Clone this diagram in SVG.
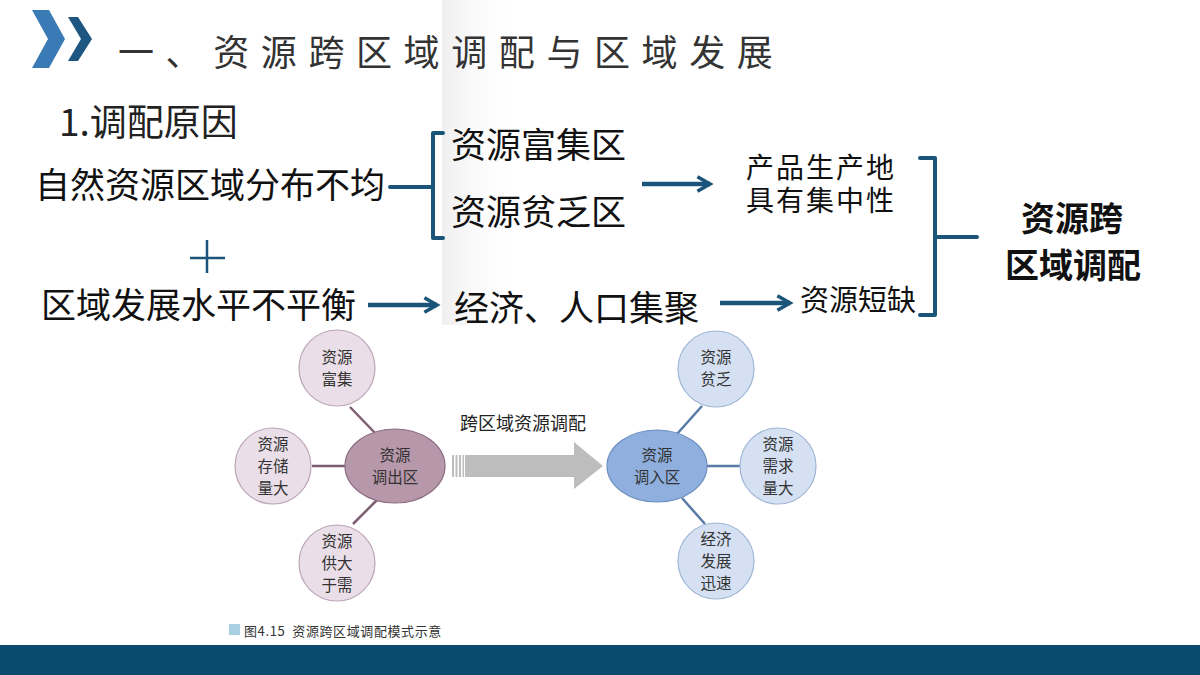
<svg xmlns="http://www.w3.org/2000/svg" width="1200" height="675" viewBox="0 0 1200 675">
<defs>
<style>
.t{font-family:"Noto Sans CJK SC","Liberation Sans",sans-serif;fill:#111}
.big{font-size:35px}
.mid{font-size:29px}
.sm{font-family:"Noto Sans CJK SC","Liberation Sans",sans-serif;font-size:15.5px;fill:#333;text-anchor:middle}
.br{fill:none;stroke:#1b5479;stroke-width:4;stroke-linecap:round;stroke-linejoin:round}
.ar{fill:none;stroke:#1b5479;stroke-width:4.5}
.pc{fill:#eadfe8;stroke:#bba5b7;stroke-width:1.2}
.bc{fill:#d5e1f2;stroke:#9fb6d6;stroke-width:1.2}
.pl{stroke:#7d5e72;stroke-width:2.5}
.bl{stroke:#587aa6;stroke-width:2.5}
</style>
<marker id="ah" viewBox="0 0 10 10" refX="8" refY="5" markerWidth="4" markerHeight="4" orient="auto" markerUnits="strokeWidth">
<polyline points="1,1 8,5 1,9" fill="none" stroke="#1b5479" stroke-width="2"/>
</marker>
<linearGradient id="sh" x1="0" y1="0" x2="1" y2="0">
<stop offset="0" stop-color="#efefef"/>
<stop offset="1" stop-color="#ffffff" stop-opacity="0"/>
</linearGradient>
</defs>
<rect width="1200" height="675" fill="#ffffff"/>
<rect x="442" y="0" width="80" height="325" fill="url(#sh)"/>
<rect x="0" y="645" width="1200" height="30" fill="#0b4a6f"/>

<g id="title">
<polygon points="32,10 49,10 65,39 49,68 32,68 48,39" fill="#3b7bb5"/>
<polygon points="68,17 78,17 92,39 78,61 68,61 81,39" fill="#1d5781"/>
<text x="118" y="66" font-family="'Noto Sans CJK SC','Liberation Sans',sans-serif" font-size="36" letter-spacing="11.6" fill="#333">一、资源跨区域调配与区域发展</text>
<text x="59" y="136" font-family="'Noto Sans CJK SC','Liberation Sans',sans-serif" font-size="37" fill="#222">1.调配原因</text>
</g>

<g id="connectors">
<path class="br" d="M390,187 H433 M443,133 H433 V238 H443"/>
<path class="br" d="M920,158 H935 V315 H920 M935,237 H977"/>
<line class="ar" x1="642" y1="184" x2="710" y2="184" marker-end="url(#ah)"/>
<line class="ar" x1="368" y1="305" x2="437" y2="305" marker-end="url(#ah)"/>
<line class="ar" x1="720" y1="303" x2="790" y2="303" marker-end="url(#ah)"/>
<path d="M207,240 V273 M190,258 H225" stroke="#1b5479" stroke-width="2.5" fill="none"/>
<line class="pl" x1="350" y1="407" x2="375" y2="433"/>
<line class="pl" x1="312" y1="466" x2="345" y2="466"/>
<line class="pl" x1="353" y1="524" x2="377" y2="500"/>
<line class="bl" x1="702" y1="406" x2="677" y2="434"/>
<line class="bl" x1="707" y1="466" x2="740" y2="466"/>
<line class="bl" x1="682" y1="498" x2="705" y2="524"/>
</g>

<g id="n-natural"><text class="t big" x="35" y="198">自然资源区域分布不均</text></g>
<g id="n-rich"><text class="t big" x="451" y="158">资源富集区</text></g>
<g id="n-poor"><text class="t big" x="451" y="225">资源贫乏区</text></g>
<g id="n-prod"><text class="t" font-size="28" letter-spacing="2"><tspan x="746" y="178">产品生产地</tspan><tspan x="746" y="211">具有集中性</tspan></text></g>
<g id="n-dev"><text class="t big" x="41" y="318">区域发展水平不平衡</text></g>
<g id="n-econ"><text class="t big" x="454" y="321">经济、人口集聚</text></g>
<g id="n-short"><text class="t mid" x="800" y="311" font-size="30">资源短缺</text></g>
<g id="n-result"><text class="t" x="1072" y="231" font-size="34" font-weight="bold" text-anchor="middle">资源跨</text><text class="t" x="1073" y="278" font-size="34" font-weight="bold" text-anchor="middle">区域调配</text></g>

<g id="c-out"><ellipse cx="395" cy="466" rx="50" ry="37" fill="#b797aa" stroke="#8a6a80" stroke-width="1.2"/><text class="sm" x="395" y="461">资源</text><text class="sm" x="395" y="483">调出区</text></g>
<g id="c-rich"><circle class="pc" cx="337" cy="368" r="38"/><text class="sm" x="337" y="363">资源</text><text class="sm" x="337" y="385">富集</text></g>
<g id="c-store"><circle class="pc" cx="273" cy="466" r="38"/><text class="sm" x="273" y="450">资源</text><text class="sm" x="273" y="472">存储</text><text class="sm" x="273" y="494">量大</text></g>
<g id="c-supply"><circle class="pc" cx="337" cy="563" r="38"/><text class="sm" x="337" y="547">资源</text><text class="sm" x="337" y="569">供大</text><text class="sm" x="337" y="591">于需</text></g>

<g id="big-arrow" fill="#bdbdbd">
<rect x="452" y="455" width="2" height="22"/>
<rect x="455.5" y="455" width="2" height="22"/>
<rect x="459" y="455" width="2" height="22"/>
<rect x="462.5" y="455" width="1.5" height="22"/>
<polygon points="465,455 574,455 574,442 603,466 574,489 574,477 465,477"/>
<text x="523" y="430" font-family="'Noto Sans CJK SC','Liberation Sans',sans-serif" font-size="18" fill="#222" text-anchor="middle">跨区域资源调配</text>
</g>

<g id="c-in"><ellipse cx="657" cy="466" rx="50" ry="36" fill="#8fb0de" stroke="#6d8ebf" stroke-width="1.2"/><text class="sm" x="657" y="461">资源</text><text class="sm" x="657" y="483">调入区</text></g>
<g id="c-lack"><circle class="bc" cx="716" cy="369" r="38"/><text class="sm" x="716" y="363">资源</text><text class="sm" x="716" y="385">贫乏</text></g>
<g id="c-demand"><circle class="bc" cx="778" cy="466" r="38"/><text class="sm" x="778" y="450">资源</text><text class="sm" x="778" y="472">需求</text><text class="sm" x="778" y="494">量大</text></g>
<g id="c-fast"><circle class="bc" cx="716" cy="561" r="38"/><text class="sm" x="716" y="545">经济</text><text class="sm" x="716" y="567">发展</text><text class="sm" x="716" y="589">迅速</text></g>

<g id="caption">
<rect x="229" y="624" width="11" height="11" fill="#a9d0e2"/>
<text x="244" y="636" font-family="'Noto Sans CJK SC','Liberation Sans',sans-serif" font-size="13" letter-spacing="0.6" fill="#333" xml:space="preserve">图4.15  资源跨区域调配模式示意</text>
</g>
</svg>
